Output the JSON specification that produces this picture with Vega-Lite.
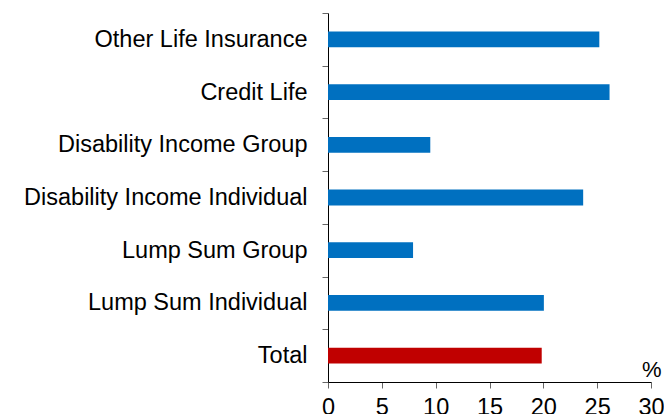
{
  "$schema": "https://vega.github.io/schema/vega-lite/v6.json",
  "autosize": "none",
  "padding": {"left": 328, "top": 13, "right": 13, "bottom": 32},
  "width": 323,
  "height": 369,
  "background": "white",
  "data": {
    "values": [
      {"category": "Other Life Insurance", "value": 25.2, "group": "segment"},
      {"category": "Credit Life", "value": 26.15, "group": "segment"},
      {"category": "Disability Income Group", "value": 9.5, "group": "segment"},
      {"category": "Disability Income Individual", "value": 23.7, "group": "segment"},
      {"category": "Lump Sum Group", "value": 7.9, "group": "segment"},
      {"category": "Lump Sum Individual", "value": 20.05, "group": "segment"},
      {"category": "Total", "value": 19.85, "group": "total"}
    ]
  },
  "mark": {"type": "bar", "height": {"band": 0.3}},
  "encoding": {
    "y": {
      "field": "category",
      "type": "nominal",
      "sort": null,
      "scale": {"paddingInner": 0, "paddingOuter": 0},
      "axis": {
        "title": null,
        "tickBand": "extent",
        "tickSize": 6,
        "tickColor": "#666666",
        "domainColor": "#000000",
        "labelFont": "Liberation Sans",
        "labelFontSize": 23.5,
        "labelColor": "#000000",
        "labelPadding": 15,
        "labelLimit": 400
      }
    },
    "x": {
      "field": "value",
      "type": "quantitative",
      "scale": {"domain": [0, 30], "nice": false},
      "axis": {
        "values": [0, 5, 10, 15, 20, 25, 30],
        "grid": false,
        "title": "%",
        "titleFont": "Liberation Sans",
        "titleFontSize": 22,
        "titleFontWeight": "normal",
        "titleColor": "#000000",
        "titleX": 333,
        "titleY": -13,
        "titleBaseline": "middle",
        "titleAlign": "right",
        "tickSize": 6,
        "tickColor": "#666666",
        "domainColor": "#000000",
        "labelFont": "Liberation Sans",
        "labelFontSize": 23.5,
        "labelColor": "#000000",
        "labelPadding": 7,
        "labelFlush": false,
        "labelOverlap": false
      }
    },
    "color": {
      "field": "group",
      "type": "nominal",
      "scale": {"domain": ["segment", "total"], "range": ["#0070C0", "#C00000"]},
      "legend": null
    }
  },
  "config": {"view": {"stroke": null}}
}
